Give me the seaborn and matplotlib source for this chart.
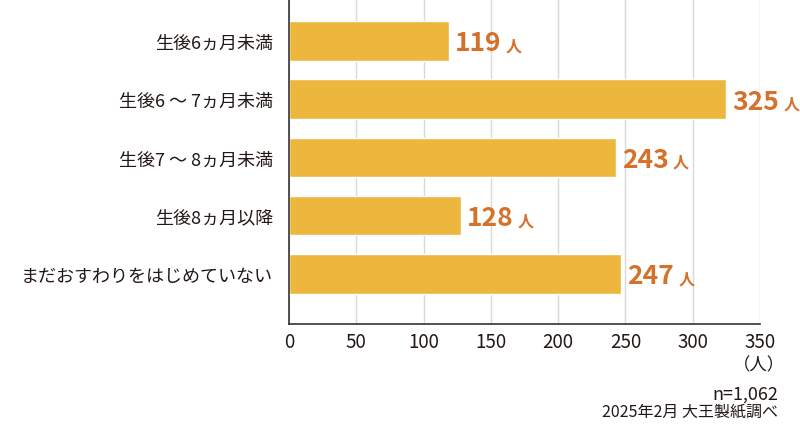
import matplotlib
matplotlib.use("Agg")
import matplotlib.pyplot as plt
import seaborn as sns
import pandas as pd

categories = ["生後6ヵ月未満", "生後6 〜 7ヵ月未満", "生後7 〜 8ヵ月未満", "生後8ヵ月以降", "まだおすわりをはじめていない"]
values = [119, 325, 243, 128, 247]
xticks = [0, 50, 100, 150, 200, 250, 300, 350]
unit = "人"
note_n = "n=1,062"
note_src = "2025年2月 大王製紙調べ"

sns.set_theme(style="white")
plt.rcParams['font.family'] = ['Noto Sans CJK JP', 'DejaVu Sans']

bar_color = "#EDB73D"
label_color = "#D4712B"
text_color = "#231815"

df = pd.DataFrame({"cat": categories, "val": values})

fig = plt.figure(figsize=(8, 4.31), dpi=100)
ax = fig.add_axes([289/800, 1 - 325/431, (760-289)/800, 325/431])

sns.barplot(data=df, x="val", y="cat", color=bar_color, width=0.68, ax=ax, saturation=1)

ax.set_xlim(0, 350)
ax.set_ylim(4.86, -0.72)
ax.set_xticks(xticks)
ax.set_xticklabels([str(t) for t in xticks], fontsize=13.5, color=text_color)
ax.set_xlabel("")
ax.set_ylabel("")
ax.tick_params(axis="y", length=0, labelsize=13, labelcolor=text_color, pad=11.5)
ax.tick_params(axis="x", direction="in", length=9, width=1.2, color="#333333", pad=5)
ax.xaxis.grid(True, color="#D9D9D9", linewidth=1)
ax.set_axisbelow(True)
for s in ["top", "right"]:
    ax.spines[s].set_visible(False)
for s in ["left", "bottom"]:
    ax.spines[s].set_color("#333333")
    ax.spines[s].set_linewidth(1.2)

fig.canvas.draw()
renderer = fig.canvas.get_renderer()
W, H = fig.get_figwidth() * fig.dpi, fig.get_figheight() * fig.dpi
num_size = 19
for i, v in enumerate(values):
    xd, yd = ax.transData.transform((v, i))
    base = yd - 0.714 * num_size * fig.dpi / 72 / 2
    t = fig.text((xd + 6) / W, base / H, str(v), ha="left", va="baseline",
                 fontsize=num_size, fontweight="bold", color=label_color)
    bb = t.get_window_extent(renderer=renderer)
    fig.text((bb.x1 + 4) / W, base / H, unit, ha="left", va="baseline",
             fontsize=11.5, fontweight="bold", color=label_color)

fig.text(785/800, 1 - 365/431, "（人）", ha="right", va="center", fontsize=12.5, color=text_color)
fig.text(778/800, 1 - 395/431, note_n, ha="right", va="center", fontsize=13, color=text_color)
fig.text(778/800, 1 - 412/431, note_src, ha="right", va="center", fontsize=11.5, color=text_color)

fig.savefig("out.png", dpi=100)
